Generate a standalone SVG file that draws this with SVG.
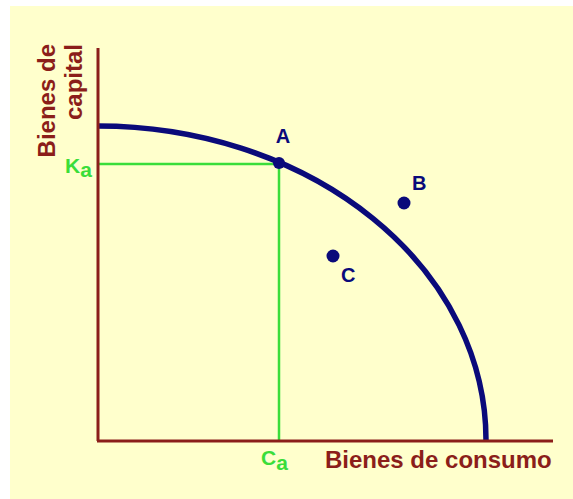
<svg xmlns="http://www.w3.org/2000/svg" width="573" height="499" viewBox="0 0 573 499">
<style>
.axis{stroke:#8B1E1A;stroke-width:3;fill:none}
.guide{stroke:#3ADD3A;stroke-width:2.5;fill:none}
.curve{stroke:#0A0A7A;stroke-width:5.5;fill:none}
.dot{fill:#0A0A7A}
.lbl{font-family:"Liberation Sans",Arial,sans-serif;font-weight:bold;font-size:20px;fill:#0A0A7A}
.ax{font-family:"Liberation Sans",Arial,sans-serif;font-weight:bold;font-size:24px;fill:#8B1E1A}
.gl{font-family:"Liberation Sans",Arial,sans-serif;font-weight:bold;font-size:21px;fill:#3ADD3A}
</style>
<rect x="0" y="0" width="573" height="499" fill="#FFFFFF"/>
<rect x="10" y="6" width="563" height="493" fill="#FFFFCC"/>
<g id="connectors">
<line class="guide" x1="98" y1="164" x2="279" y2="164"/>
<line class="guide" x1="279" y1="164" x2="279" y2="441"/>
<path class="curve" d="M98,126 A388,314 0 0 1 486,441"/>
<line class="axis" x1="98" y1="48" x2="98" y2="441"/>
<line class="axis" x1="97" y1="441" x2="553" y2="441"/>
</g>
<g id="axis-y-label">
<text class="ax" text-anchor="end" transform="translate(55,44) rotate(-90)">Bienes de</text>
<text class="ax" text-anchor="end" transform="translate(82,44) rotate(-90)">capital</text>
</g>
<g id="axis-x-label">
<text class="ax" x="325" y="468">Bienes de consumo</text>
</g>
<g id="Ka"><text class="gl" x="65" y="173">K<tspan dy="4">a</tspan></text></g>
<g id="Ca"><text class="gl" x="261" y="465">C<tspan dy="5">a</tspan></text></g>
<g id="A"><circle class="dot" cx="279" cy="163" r="6"/><text class="lbl" x="283" y="143" text-anchor="middle">A</text></g>
<g id="B"><circle class="dot" cx="404" cy="203" r="6.5"/><text class="lbl" x="412" y="190">B</text></g>
<g id="C"><circle class="dot" cx="333" cy="256" r="6.5"/><text class="lbl" x="341" y="282">C</text></g>
</svg>
